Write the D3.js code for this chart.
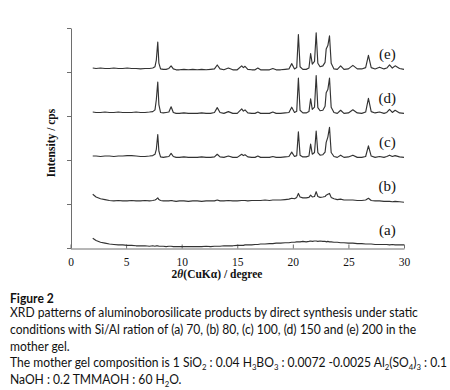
<!DOCTYPE html>
<html><head><meta charset="utf-8">
<script src="https://cdn.jsdelivr.net/npm/d3@7"></script>
<style>body{margin:0;background:#fff}svg{display:block}</style>
</head><body><svg id="c" width="450" height="390"></svg>
<script>
// 2-theta grid (degrees)
const twoTheta = [
  2.0, 2.3, 2.7, 3.1, 3.5, 3.9, 4.3, 4.7, 5.1, 5.5,
  5.9, 6.3, 6.7, 7.1, 7.4, 7.6, 7.72, 7.85, 7.95, 8.1,
  8.35, 8.6, 8.85, 9.05, 9.25, 9.5, 9.8, 10.2, 10.6, 11.0,
  11.4, 11.8, 12.2, 12.6, 12.95, 13.2, 13.45, 13.8, 14.2, 14.6,
  15.0, 15.4, 15.55, 15.7, 15.95, 16.3, 16.6, 16.85, 17.1, 17.5,
  17.9, 18.2, 18.5, 18.9, 19.3, 19.65, 19.9, 20.15, 20.35, 20.5,
  20.65, 20.9, 21.2, 21.45, 21.6, 21.75, 21.95, 22.1, 22.25, 22.45,
  22.7, 22.9, 23.0, 23.15, 23.3, 23.45, 23.7, 24.0, 24.3, 24.6,
  25.0, 25.4, 25.8, 26.2, 26.55, 26.8, 27.05, 27.4, 27.8, 28.2,
  28.45, 28.7, 28.95, 29.2, 29.6, 30.0
];
// intensities (cps, arbitrary units) for each pattern, before stacking offset
const seriesA = [
  22, 17, 13, 11, 9, 8, 7, 7, 6, 6,
  5, 5, 5, 4, 5, 4, 5, 5, 4, 4,
  4, 3, 4, 4, 3, 3, 3, 3, 3, 3,
  3, 3, 4, 3, 4, 4, 4, 5, 5, 5,
  6, 6, 6, 7, 7, 7, 8, 8, 9, 9,
  10, 10, 11, 11, 12, 12, 13, 13, 14, 14,
  14, 15, 14, 15, 16, 15, 16, 16, 15, 16,
  15, 15, 14, 15, 14, 14, 13, 13, 12, 12,
  11, 11, 10, 10, 9, 9, 9, 8, 8, 8,
  8, 7, 8, 7, 7, 7
];
const seriesB = [
  22, 16, 12, 10, 8, 7, 8, 7, 7, 8,
  7, 7, 8, 7, 8, 9, 11, 14, 10, 8,
  7, 7, 7, 8, 7, 6, 7, 7, 6, 7,
  7, 6, 7, 7, 7, 9, 7, 7, 8, 7,
  7, 8, 8, 8, 7, 8, 8, 8, 8, 9,
  8, 9, 9, 9, 10, 11, 13, 12, 15, 24,
  16, 14, 14, 15, 20, 16, 17, 28, 17, 15,
  16, 17, 20, 22, 24, 15, 12, 10, 11, 9,
  9, 9, 8, 8, 9, 13, 8, 7, 7, 6,
  6, 6, 5, 6, 5, 4
];
const seriesC = [
  9, 9, 8, 9, 9, 8, 9, 9, 10, 10,
  9, 8, 8, 9, 10, 13, 24, 58, 20, 7,
  6, 7, 8, 15, 8, 6, 6, 7, 6, 6,
  6, 7, 6, 6, 7, 13, 7, 6, 9, 6,
  6, 13, 10, 12, 7, 6, 6, 9, 6, 6,
  6, 8, 6, 6, 7, 8, 18, 8, 10, 64,
  11, 7, 7, 9, 36, 13, 17, 66, 17, 11,
  12, 18, 40, 52, 74, 17, 8, 6, 11, 6,
  7, 11, 6, 6, 8, 32, 9, 6, 8, 6,
  8, 11, 8, 10, 7, 6
];
const seriesD = [
  9, 8, 8, 9, 8, 8, 9, 8, 8, 8,
  9, 8, 8, 9, 10, 14, 37, 77, 26, 8,
  7, 8, 9, 21, 8, 6, 6, 7, 6, 6,
  6, 7, 6, 6, 8, 19, 8, 6, 10, 6,
  6, 16, 11, 14, 7, 6, 6, 9, 6, 6,
  6, 9, 6, 6, 7, 8, 20, 8, 11, 86,
  13, 7, 7, 10, 39, 15, 20, 92, 19, 12,
  13, 22, 53, 60, 86, 20, 8, 6, 13, 6,
  7, 14, 7, 6, 9, 40, 10, 7, 9, 6,
  8, 15, 8, 13, 7, 6
];
const seriesE = [
  9, 8, 9, 8, 8, 9, 8, 8, 9, 8,
  8, 7, 8, 8, 9, 12, 27, 68, 20, 7,
  6, 6, 8, 14, 7, 5, 5, 6, 5, 6,
  5, 6, 5, 6, 7, 16, 7, 5, 9, 5,
  5, 14, 10, 13, 6, 5, 5, 9, 5, 5,
  5, 8, 5, 5, 6, 7, 19, 7, 10, 85,
  12, 6, 6, 9, 42, 18, 24, 89, 20, 12,
  14, 22, 52, 60, 82, 20, 7, 6, 14, 6,
  7, 15, 7, 7, 10, 38, 10, 7, 11, 7,
  9, 16, 9, 14, 8, 6
];
const seriesValues = [seriesA, seriesB, seriesC, seriesD, seriesE];
const seriesOffsets = [0, 100, 200, 300, 400];
const seriesLabels = ["(a)", "(b)", "(c)", "(d)", "(e)"];
const xTicks = [0, 5, 10, 15, 20, 25, 30];
const yTicks = [0, 100, 200, 300, 400, 500];
const captionTitle = "Figure 2";
const captionLines = [
  [["XRD patterns of aluminoborosilicate products by direct synthesis under static", 0]],
  [["conditions with Si/Al ration of (a) 70, (b) 80, (c) 100, (d) 150 and (e) 200 in the", 0]],
  [["mother gel.", 0]],
  [["The mother gel composition is 1 SiO", 0], ["2", 1], [" : 0.04 H", 0], ["3", 1], ["BO", 0], ["3", 1],
   [" : 0.0072 -0.0025 Al", 0], ["2", 1], ["(SO", 0], ["4", 1], [")", 0], ["3", 1], [" : 0.1", 0]],
  [["NaOH : 0.2 TMMAOH : 60 H", 0], ["2", 1], ["O.", 0]]
];

const svg = d3.select("#c");
const serif = "'Liberation Serif','Times New Roman',serif";
const x = d3.scaleLinear().domain([0, 30]).range([70.5, 404]);
const y = d3.scaleLinear().domain([0, 500]).range([248, 28]);
const axisColor = "#6e6e6e";

// axes
const gx = svg.append("g").attr("transform", "translate(0,248.5)")
  .call(d3.axisBottom(x).tickValues(xTicks).tickSize(-4).tickSizeOuter(0).tickPadding(9));
gx.selectAll("path,line").attr("stroke", axisColor);
gx.selectAll("text").attr("font-family", serif).attr("font-size", 11.5).attr("fill", "#111");

const gy = svg.append("g").attr("transform", "translate(71,0)")
  .call(d3.axisLeft(y).tickValues(yTicks).tickSize(4).tickSizeOuter(0).tickFormat(""));
gy.selectAll("path,line").attr("stroke", axisColor);

// patterns
const line = d3.line().x((d, i) => x(twoTheta[i]));
seriesValues.forEach((vals, k) => {
  svg.append("path")
    .attr("d", line.y(d => y(d + seriesOffsets[k]))(vals))
    .attr("fill", "none").attr("stroke", "#333").attr("stroke-width", 1.15)
    .attr("stroke-linejoin", "round");
  svg.append("text")
    .attr("x", x(28.5)).attr("y", y(seriesOffsets[k] + 42))
    .attr("text-anchor", "middle").attr("dominant-baseline", "central")
    .attr("font-family", serif).attr("font-size", 15).attr("fill", "#111")
    .text(seriesLabels[k]);
});

// axis titles
const xt = svg.append("text").attr("x", 217).attr("y", 278).attr("text-anchor", "middle")
  .attr("font-family", serif).attr("font-size", 11.5).attr("font-weight", "bold").attr("fill", "#111");
xt.append("tspan").text("2");
xt.append("tspan").attr("font-style", "italic").text("θ");
xt.append("tspan").text("(CuKα) / degree");

svg.append("text").attr("transform", "translate(55,143) rotate(-90)").attr("text-anchor", "middle")
  .attr("font-family", serif).attr("font-size", 11.5).attr("font-weight", "bold").attr("fill", "#111")
  .text("Intensity / cps");

// caption
const capFont = "Lato, 'Open Sans', sans-serif";
const lines = captionLines.map((parts, i) => {
  const t = svg.append("text").attr("data-y", 317.3 + i * 16.7)
    .attr("font-family", capFont).attr("font-size", 12.5).attr("fill", "#111");
  let shift = 0;
  parts.forEach(([s, sub]) => {
    const target = sub ? 3 : 0;
    const ts = t.append("tspan").attr("dy", target - shift).text(s);
    if (sub) ts.attr("font-size", 8);
    shift = target;
  });
  return t;
});
const sc = 408 / lines[0].node().getComputedTextLength();
lines.forEach(t => t.attr("transform", `translate(10,${t.attr("data-y")}) scale(${sc},1)`));
svg.append("text").attr("font-family", capFont).attr("font-size", 12.5).attr("font-weight", "bold")
  .attr("fill", "#111").attr("transform", `translate(10,302.5) scale(${sc},1)`).text(captionTitle);
</script></body></html>
